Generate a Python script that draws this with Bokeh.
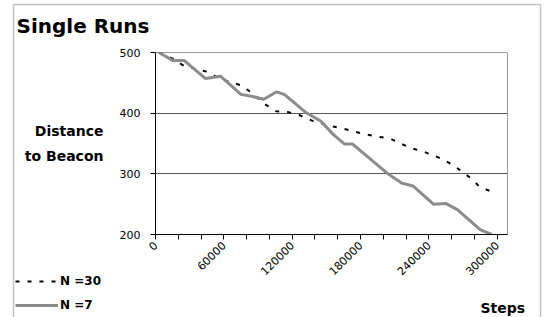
import math
from bokeh.plotting import figure
from bokeh.layouts import column
from bokeh.models import FixedTicker, Label, Legend, LegendItem, Range1d, BoxAnnotation
from bokeh.embed import file_html
from bokeh.resources import INLINE

# ---- data ----
steps_n30 = [3000, 15000, 25000, 35000, 46000, 57000, 75000, 85000, 95000, 106000,
             116000, 126000, 137000, 146000, 156000, 166000, 176000, 186000, 196000,
             206000, 215000, 225000, 236000, 246000, 257000, 266000, 276000, 285000, 296000]
dist_n30 = [500, 490, 478, 473, 468, 456, 446, 433, 416, 403,
            402, 397, 388, 383, 378, 374, 369, 364.5, 361,
            358, 350, 342, 336, 329, 319, 308, 294, 278, 270]

steps_n7 = [3000, 15000, 25000, 44000, 57000, 75000, 84000, 95000, 106000, 113000,
            122000, 132000, 145000, 156000, 166000, 173000, 201000, 204000, 216000,
            226000, 244000, 255000, 265000, 285000, 295000]
dist_n7 = [500, 487, 487, 457, 461, 431, 428, 423, 435, 431,
           417, 401, 387, 365, 349, 349, 305, 300, 285,
           280, 250, 251, 241, 208, 200]

series_names = ["N =30", "N =7"]
x_ticks = [0, 20000, 40000, 60000, 80000, 100000, 120000, 140000, 160000, 180000,
           200000, 220000, 240000, 260000, 280000, 300000]
x_labelled = [0, 60000, 120000, 180000, 240000, 300000]
y_ticks = [200, 300, 400, 500]
grid_ticks = [300, 400]

FONT = "DejaVu Sans"
W, H = 545, 317
DASH = dict(line_color="black", line_width=2, line_dash="4 8")
SOLID = dict(line_color="#8c8c8c", line_width=3)

# ---- main chart ----
p = figure(width=W, height=H, output_backend="svg", toolbar_location=None,
           x_range=Range1d(0, 309000), y_range=Range1d(200, 500),
           min_border_left=155, min_border_right=38, min_border_top=52, min_border_bottom=83)
p.background_fill_color = "white"
p.border_fill_color = "white"
p.outline_line_color = "#999999"
p.outline_line_width = 1

p.xaxis.ticker = FixedTicker(ticks=x_ticks)
p.xaxis.major_label_overrides = {t: (str(t) if t in x_labelled else "") for t in x_ticks}
p.xaxis.major_label_orientation = math.pi / 4
p.xaxis.minor_tick_line_color = None
p.xaxis.major_tick_in = 0
p.xaxis.major_tick_out = 5
p.xaxis.axis_line_color = "black"
p.xaxis.major_tick_line_color = "black"
p.xaxis.major_label_text_font = FONT
p.xaxis.major_label_text_font_size = "11px"
p.xaxis.major_label_text_color = "black"
p.xaxis.major_label_standoff = 4

p.yaxis.ticker = FixedTicker(ticks=y_ticks)
p.yaxis.minor_tick_line_color = None
p.yaxis.major_tick_in = 0
p.yaxis.major_tick_out = 5
p.yaxis.axis_line_color = "black"
p.yaxis.major_tick_line_color = "black"
p.yaxis.major_label_text_font = FONT
p.yaxis.major_label_text_font_size = "11px"
p.yaxis.major_label_text_color = "black"
p.yaxis.major_label_standoff = 10
p.yaxis.axis_label = "Distance\nto Beacon"
p.yaxis.axis_label_orientation = "horizontal"
p.yaxis.axis_label_text_font = FONT
p.yaxis.axis_label_text_font_style = "bold"
p.yaxis.axis_label_text_font_size = "14px"
p.yaxis.axis_label_text_color = "black"
p.yaxis.axis_label_text_line_height = 1.55
p.yaxis.axis_label_standoff = 13

p.xgrid.grid_line_color = None
p.ygrid.ticker = FixedTicker(ticks=grid_ticks)
p.ygrid.grid_line_color = "#555555"
p.ygrid.grid_line_width = 1

p.line(steps_n30, dist_n30, **DASH)
p.line(steps_n7, dist_n7, **SOLID)

# ---- transparent overlay holding title, legend, "Steps" and the outer frame ----
q = figure(width=W, height=H, output_backend="svg", toolbar_location=None,
           x_range=Range1d(0, W), y_range=Range1d(H, 0),
           x_axis_type=None, y_axis_type=None,
           min_border_left=0, min_border_right=0, min_border_top=0, min_border_bottom=0)
q.background_fill_color = None
q.border_fill_color = None
q.outline_line_color = None
q.xgrid.grid_line_color = None
q.ygrid.grid_line_color = None
q.styles = {"margin-top": f"-{H}px"}
for fig in (p, q):
    if "frame_align" in fig.properties():
        fig.frame_align = False

l30 = q.line(x=[math.nan], y=[math.nan], **DASH)
l7 = q.line(x=[math.nan], y=[math.nan], **SOLID)
legend = Legend(items=[LegendItem(label=series_names[0], renderers=[l30]),
                       LegendItem(label=series_names[1], renderers=[l7])],
                location=(15, 2), orientation="vertical",
                padding=0, margin=0, spacing=4, glyph_width=43, glyph_height=20,
                label_height=20, label_standoff=2,
                label_text_font=FONT, label_text_font_style="bold",
                label_text_font_size="12px", label_text_color="black",
                border_line_color=None, background_fill_alpha=0)
q.add_layout(legend, "center")

q.add_layout(Label(x=16, y=25, text="Single Runs", text_font=FONT, text_font_style="bold",
                   text_font_size="20px", text_color="black", text_baseline="middle"))
q.add_layout(Label(x=480, y=307, text="Steps", text_font=FONT, text_font_style="bold",
                   text_font_size="14px", text_color="black", text_baseline="middle"))
q.add_layout(BoxAnnotation(left=13, right=540, top=4, bottom=400,
                           fill_alpha=0, line_color="#404040", line_width=1.5))

open("out.html", "w").write(file_html(column(p, q), INLINE))
